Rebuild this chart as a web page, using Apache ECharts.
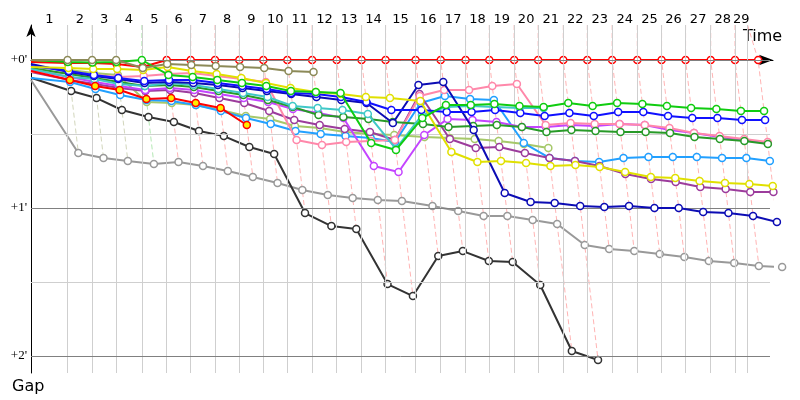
<!DOCTYPE html>
<html><head><meta charset="utf-8">
<script src="https://cdn.jsdelivr.net/npm/echarts@6/dist/echarts.min.js"></script>
<style>html,body{margin:0;padding:0;background:#fff}#c{width:800px;height:400px}</style>
</head><body><div id="c"></div>
<script>
// Leader's race time (s) when completing laps 1..29
const lapTimes = [128, 214, 298, 388, 475, 559, 644, 729, 813, 897, 984, 1070, 1157, 1241, 1346,
  1434, 1521, 1604, 1691, 1775, 1863, 1947, 2034, 2122, 2207, 2291, 2379, 2464, 2545];
const flagTime = 2508;          // last vertical time line
const lapLabels = ['1','2','3','4','5','6','7','8','9','10','11','12','13','14','15','16','17','18','19','20','21','22','23','24','25','26','27','28','29'];
const lapLeader = ['olive','olive','olive','green','red','red','red','red','red','red','red','red','red','red','red',
  'red','red','red','red','red','red','red','red','red','red','red','red','red','red'];
const gapTicks = [0, 1, 2];     // minutes
const gapMinor = [0.5, 1.5];

// Gap to leader (minutes) after lap 0..n for each car
const red = [0.013,0.02,0.02,0.027,0.047,0,0,0,0,0,0,0,0,0,0,0,0,0,0,0,0,0,0,0,0,0,0,0,0,0];
const olive = [0,0,0,0,0.054,0.027,0.034,0.041,0.047,0.054,0.074,0.081];
const green = [0,0.013,0.017,0.013,0,0.101,0.115,0.135,0.155,0.176,0.209,0.216,0.223,0.561,0.608,0.392,0.304,0.304,0.297,0.311,0.318,0.291,0.311,0.291,0.297,0.311,0.324,0.331,0.345,0.345];
const yellow = [0.047,0.054,0.061,0.061,0.068,0.047,0.074,0.095,0.122,0.155,0.189,0.216,0.230,0.250,0.257,0.277,0.622,0.689,0.682,0.696,0.716,0.709,0.723,0.757,0.791,0.797,0.818,0.831,0.838,0.851];
const blue = [0.04,0.074,0.101,0.122,0.142,0.135,0.135,0.155,0.176,0.196,0.223,0.230,0.250,0.284,0.338,0.338,0.351,0.351,0.338,0.358,0.378,0.358,0.378,0.351,0.351,0.378,0.392,0.392,0.405,0.405];
const navy = [0.027,0.081,0.108,0.128,0.155,0.149,0.155,0.169,0.189,0.209,0.230,0.250,0.270,0.291,0.426,0.169,0.149,0.473,0.899,0.959,0.966,0.986,0.993,0.986,1.0,1.0,1.027,1.034,1.054,1.095];
const cyan = [0.061,0.115,0.128,0.162,0.176,0.155,0.169,0.196,0.223,0.25,0.311,0.324,0.338,0.365,0.601,0.372,0.318,0.311,0.318,0.324,0.324];
const darkGreen = [0.054,0.095,0.122,0.149,0.176,0.169,0.182,0.209,0.236,0.270,0.318,0.372,0.385,0.399,0.419,0.432,0.453,0.446,0.439,0.453,0.486,0.473,0.480,0.486,0.486,0.493,0.520,0.534,0.547,0.568];
const pink = [0.081,0.088,0.101,0.115,0.108,0.095,0.088,0.108,0.128,0.149,0.541,0.574,0.554,0.547,0.541,0.243,0.203,0.203,0.176,0.162,0.439,0.426,0.432,0.432,0.439,0.459,0.493,0.514,0.534,0.554];
const violet = [0.068,0.115,0.149,0.176,0.203,0.189,0.203,0.230,0.257,0.284,0.331,0.358,0.392,0.716,0.757,0.507,0.399,0.405,0.419,0.453,0.453,0.439,0.446,0.432,0.439,0.473,0.493,0.520,0.541,0.561];
const purple = [0.081,0.135,0.162,0.189,0.209,0.203,0.223,0.257,0.291,0.345,0.405,0.439,0.466,0.486,0.541,0.230,0.534,0.595,0.588,0.628,0.662,0.682,0.716,0.770,0.804,0.824,0.858,0.872,0.892,0.892];
const redYellow = [0.074,0.135,0.176,0.203,0.264,0.257,0.291,0.324,0.439];
const lightGreen = [0.041,0.068,0.088,0.101,0.284,0.291,0.304,0.338,0.378,0.399,0.446,0.459,0.486,0.5,0.507,0.520,0.527,0.534,0.547,0.568,0.595];
const sky = [0.122,0.149,0.196,0.236,0.270,0.277,0.304,0.345,0.392,0.432,0.480,0.5,0.514,0.527,0.554,0.291,0.243,0.264,0.270,0.561,0.662,0.682,0.689,0.662,0.655,0.655,0.655,0.662,0.662,0.682];
const black = [0.12,0.209,0.257,0.338,0.385,0.419,0.480,0.514,0.588,0.635,1.034,1.122,1.142,1.514,1.595,1.324,1.291,1.358,1.365,1.520,1.966,2.027];
const gray = [0.135,0.628,0.662,0.682,0.703,0.689,0.716,0.750,0.791,0.831,0.878,0.912,0.932,0.946,0.953,0.986,1.020,1.054,1.054,1.081,1.108,1.250,1.277,1.291,1.311,1.331,1.358,1.372,1.392,1.399];

const cars = { red, olive, green, yellow, blue, navy, cyan, darkGreen, pink, violet, purple, redYellow, lightGreen, sky, black, gray };

// ---- styles ----
const carColor = { red:'#ff0000', olive:'#8c8a58', green:'#10cc10', yellow:'#e0e000', blue:'#1010ff', navy:'#0c0cb4',
  cyan:'#40c8c8', darkGreen:'#289a28', pink:'#ff88aa', violet:'#c444ff', purple:'#9c3c9c', redYellow:'#ff0000',
  lightGreen:'#a6c86a', sky:'#22a0ff', black:'#333333', gray:'#999999' };
const carFill = { redYellow:'#ffee00' };
const paleColor = { olive:'#d2d6bc', green:'#b4e8b4', red:'#ffb4b4' };
const drawOrder = ['red','gray','black','lightGreen','sky','purple','violet','pink','darkGreen','cyan','navy','blue','yellow','green','olive','redYellow'];

const Y_MIN = (25 - 60) / 148, Y_MAX = (373 - 60) / 148;
const X_MAX = (773 - 31) * 3.5, H_END = (770 - 31) * 3.5;

const timeAt = (k, g) => k === 0 ? 0 : lapTimes[k - 1] + g * 60;
const gridTimes = lapTimes.slice(0, lapTimes.length - 1).concat([flagTime]);
const centers = gridTimes.map((t, i) => ((i === 0 ? 0 : gridTimes[i - 1]) + t) / 2);

const series = [];
// background grid lines
const vLines = gridTimes.map(t => [{ coord: [t, Y_MIN] }, { coord: [t, Y_MAX] }]);
const hLines = gapTicks.map(v => [{ coord: [0, v], lineStyle: { color: '#808080' } }, { coord: [H_END, v] }])
  .concat(gapMinor.map(v => [{ coord: [0, v], lineStyle: { color: '#cfcfcf' } }, { coord: [H_END, v] }]));
series.push({
  type: 'line', data: [], z: 0, silent: true, showSymbol: false,
  markLine: { silent: true, symbol: ['none', 'none'], label: { show: false }, animation: false,
    lineStyle: { type: 'solid', color: '#cfcfcf', width: 1 }, data: vLines.concat(hLines) }
});
// dashed lap lines
for (let k = 1; k <= lapTimes.length; k++) {
  const pts = Object.keys(cars).filter(n => cars[n].length > k)
    .map(n => [timeAt(k, cars[n][k]), cars[n][k]]).sort((a, b) => a[1] - b[1]);
  const top = [k === lapTimes.length ? flagTime : lapTimes[k - 1], Y_MIN];
  series.push({ type: 'line', data: [top].concat(pts), z: 1, silent: true, showSymbol: false, clip: false,
    lineStyle: { color: paleColor[lapLeader[k - 1]], width: 1, type: [5, 3] } });
}
// cars
drawOrder.forEach((n, i) => {
  const g = cars[n];
  series.push({
    name: n, type: 'line', z: 2 + i, clip: false, symbol: 'circle', symbolSize: 7, showAllSymbol: true,
    data: g.map((v, k) => k === 0 ? { value: [0, v], symbol: 'none' } : [timeAt(k, v), v]),
    lineStyle: { color: carColor[n], width: 2 },
    itemStyle: { color: carFill[n] || '#ffffff', borderColor: carColor[n], borderWidth: 1.5 }
  });
});

const chart = echarts.init(document.getElementById('c'), null, { renderer: 'canvas' });
chart.setOption({
  animation: false,
  backgroundColor: '#fff',
  grid: { left: 31, right: 800 - 773, top: 25, bottom: 400 - 373 },
  xAxis: {
    type: 'value', position: 'top', min: 0, max: X_MAX,
    axisLine: { show: true, lineStyle: { color: '#000', width: 1 }, symbol: ['none', 'arrow'], symbolSize: [8, 14] },
    axisTick: { show: false }, splitLine: { show: false },
    axisLabel: { customValues: centers, margin: -1, color: '#000', fontSize: 13, fontFamily: 'DejaVu Sans',
      formatter: v => { let b = 0; centers.forEach((c, i) => { if (Math.abs(c - v) < Math.abs(centers[b] - v)) b = i; }); return lapLabels[b]; } }
  },
  yAxis: {
    type: 'value', inverse: true, min: Y_MIN, max: Y_MAX,
    axisLine: { show: true, lineStyle: { color: '#000', width: 1 }, symbol: ['none', 'arrow'], symbolSize: [7, 12] },
    axisTick: { show: false }, splitLine: { show: false },
    axisLabel: { customValues: gapTicks, margin: 4, color: '#000', fontSize: 13, fontFamily: 'Liberation Serif',
      formatter: v => '+' + v + "'" }
  },
  graphic: [
    { type: 'text', left: 743, top: 29, style: { text: 'Time', fill: '#000', font: '16px "DejaVu Sans"' } },
    { type: 'text', left: 12, top: 379, style: { text: 'Gap', fill: '#000', font: '16px "DejaVu Sans"' } }
  ],
  series
});
</script></body></html>
